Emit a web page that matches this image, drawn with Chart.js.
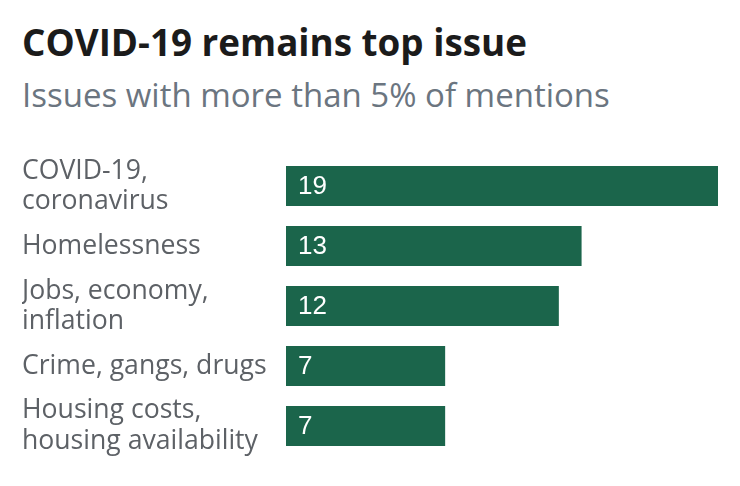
<!DOCTYPE html>
<html><head><meta charset="utf-8">
<script src="https://cdn.jsdelivr.net/npm/chart.js@4.4.0/dist/chart.umd.min.js"></script>
<style>
html,body{margin:0;padding:0;background:#fff;}
#wrap{position:relative;width:740px;height:486px;overflow:hidden;background:#fff;}
#title{position:absolute;left:22px;top:24px;font:700 36.8px 'Open Sans';line-height:36.8px;color:#1b1b1b;white-space:nowrap;}
#subtitle{position:absolute;left:22px;top:78px;font:400 33px 'Open Sans';line-height:33px;color:#6b7580;white-space:nowrap;}
#cv{position:absolute;left:0;top:0;}
</style></head>
<body><div id="wrap">
<div id="title">COVID-19 remains top issue</div>
<div id="subtitle">Issues with more than 5% of mentions</div>
<canvas id="cv" width="740" height="486"></canvas>
</div>
<script>
const categories = [
  ["COVID-19,", "coronavirus"],
  "Homelessness",
  ["Jobs, economy,", "inflation"],
  "Crime, gangs, drugs",
  ["Housing costs,", "housing availability"]
];
const values = [19, 13, 12, 7, 7];
const xMin = 0;
const xMax = 19;

const valueLabels = {
  id: 'valueLabels',
  afterDatasetsDraw(chart) {
    const ctx = chart.ctx;
    const meta = chart.getDatasetMeta(0);
    ctx.save();
    ctx.fillStyle = '#ffffff';
    ctx.font = '26px "Liberation Sans", Arial, sans-serif';
    ctx.textBaseline = 'middle';
    ctx.textAlign = 'left';
    meta.data.forEach((bar, i) => {
      ctx.fillText(String(values[i]), bar.base + 12, bar.y + 1);
    });
    ctx.restore();
  }
};

new Chart(document.getElementById('cv'), {
  type: 'bar',
  data: {
    labels: categories,
    datasets: [{
      data: values,
      backgroundColor: '#1b654b',
      borderWidth: 0,
      categoryPercentage: 1,
      barPercentage: 40/60
    }]
  },
  options: {
    indexAxis: 'y',
    responsive: false,
    animation: false,
    events: [],
    layout: { padding: { top: 156, left: 22, right: 22, bottom: 30 } },
    plugins: { legend: { display: false }, tooltip: { enabled: false } },
    scales: {
      x: { display: false, min: xMin, max: xMax },
      y: {
        grid: { display: false },
        border: { display: false },
        ticks: {
          autoSkip: false,
          crossAlign: 'far',
          padding: 0,
          color: '#5d6166',
          font: { family: "'Open Sans'", size: 26.6, lineHeight: 1.13 }
        },
        afterFit(scale) { scale.width = 264; }
      }
    }
  },
  plugins: [valueLabels]
});
</script>
</body></html>
